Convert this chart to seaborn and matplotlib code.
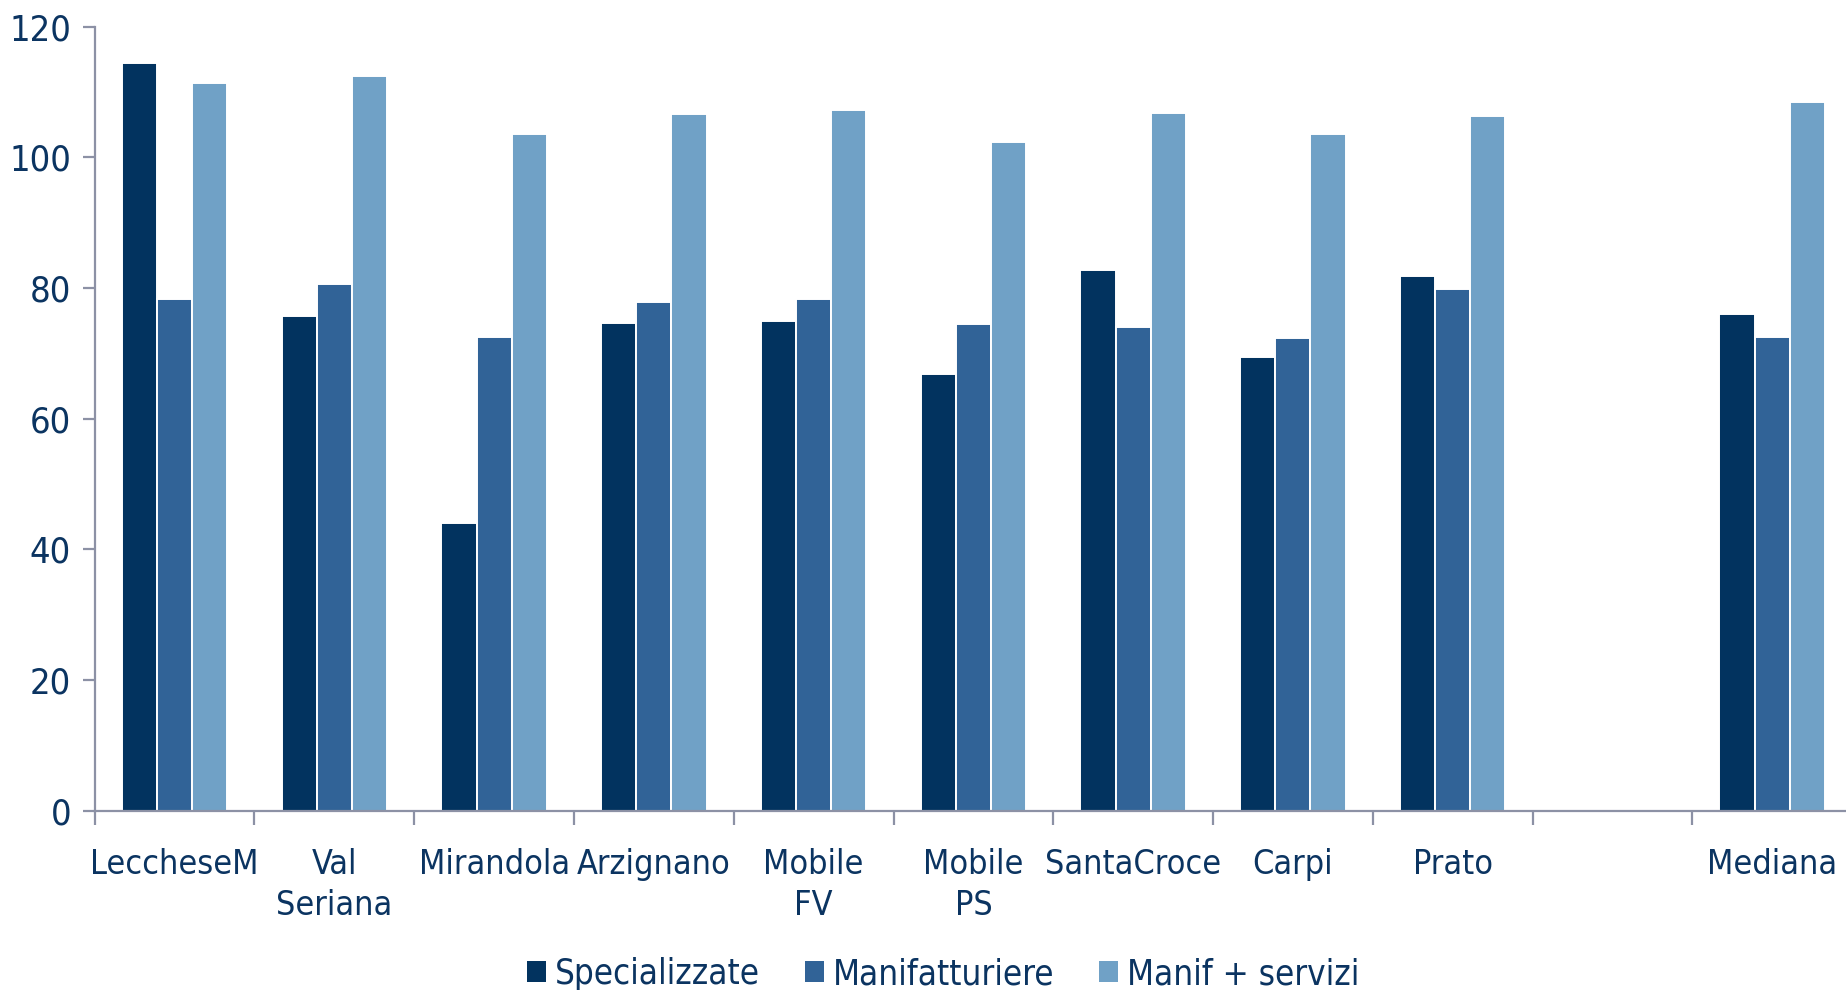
import numpy as np
import pandas as pd
import matplotlib
matplotlib.use("Agg")
import matplotlib.pyplot as plt
import seaborn as sns
from matplotlib.ticker import FixedLocator, NullFormatter, FixedFormatter

# Districts (one blank slot separates the median from the rest)
categories = ["LeccheseM", "Val\nSeriana", "Mirandola", "Arzignano", "Mobile\nFV",
              "Mobile\nPS", "SantaCroce", "Carpi", "Prato", " ", "Mediana"]
series = ["Specializzate", "Manifatturiere", "Manif + servizi"]

specializzate = [114.5, 75.7, 44.1, 74.6, 75.0, 66.8, 82.7, 69.4, 81.9, np.nan, 76.1]
manifatturiere = [78.4, 80.7, 72.5, 77.8, 78.3, 74.5, 74.0, 72.4, 79.9, np.nan, 72.5]
manif_servizi = [111.4, 112.5, 103.6, 106.7, 107.3, 102.4, 106.8, 103.6, 106.4, np.nan, 108.5]

yticks = [0, 20, 40, 60, 80, 100, 120]
colors = ["#02335F", "#316397", "#70A1C6"]
text_color = "#0B3461"
axis_color = "#8C91A5"

df = pd.DataFrame({
    "distretto": np.repeat(categories, len(series)),
    "tipo": np.tile(series, len(categories)),
    "valore": np.ravel(np.column_stack([specializzate, manifatturiere, manif_servizi])),
})

sns.set_theme(style="white")
plt.rcParams["font.family"] = ["DejaVu Sans"]
plt.rcParams["font.stretch"] = "condensed"

fig = plt.figure(figsize=(18.46, 9.90), dpi=100)
ax = fig.add_axes([0.0513, 0.181, 0.952, 0.792])

sns.barplot(data=df, x="distretto", y="valore", hue="tipo", order=categories,
            hue_order=series, palette=colors, width=0.66, edgecolor="white",
            linewidth=1.4, saturation=1, errorbar=None, ax=ax)

ax.set_xlim(-0.5, len(categories) - 0.5)
ax.set_ylim(0, 120)
ax.set_yticks(yticks)
ax.set_yticklabels([str(t) for t in yticks])
ax.set_xlabel("")
ax.set_ylabel("")

# tick marks on the group boundaries, labels centred under each group
ax.xaxis.set_major_locator(FixedLocator(np.arange(len(categories)) - 0.5))
ax.xaxis.set_major_formatter(NullFormatter())
ax.xaxis.set_minor_locator(FixedLocator(np.arange(len(categories))))
ax.xaxis.set_minor_formatter(FixedFormatter(categories))

for s in ["top", "right"]:
    ax.spines[s].set_visible(False)
for s in ["left", "bottom"]:
    ax.spines[s].set_color(axis_color)
    ax.spines[s].set_linewidth(1.6)

ax.tick_params(axis="y", which="major", direction="out", length=9, width=1.6,
               color=axis_color, labelcolor=text_color, labelsize=26, pad=8, left=True)
ax.tick_params(axis="x", which="major", direction="out", length=10, width=1.6,
               color=axis_color, bottom=True)
ax.tick_params(axis="x", which="minor", length=0, labelcolor=text_color,
               labelsize=24.5, pad=26.5)
for lab in ax.get_xticklabels(minor=True):
    lab.set_linespacing(1.32)
    lab.set_verticalalignment("top")

leg = ax.legend(loc="center", bbox_to_anchor=(0.511, 0.016), bbox_transform=fig.transFigure,
                ncol=3, frameon=False, fontsize=25, handlelength=0.55, handleheight=0.55,
                handletextpad=0.25, columnspacing=1.3, labelcolor=text_color)
for h in leg.legend_handles:
    h.set_edgecolor("none")

fig.savefig("out.png", dpi=100)
